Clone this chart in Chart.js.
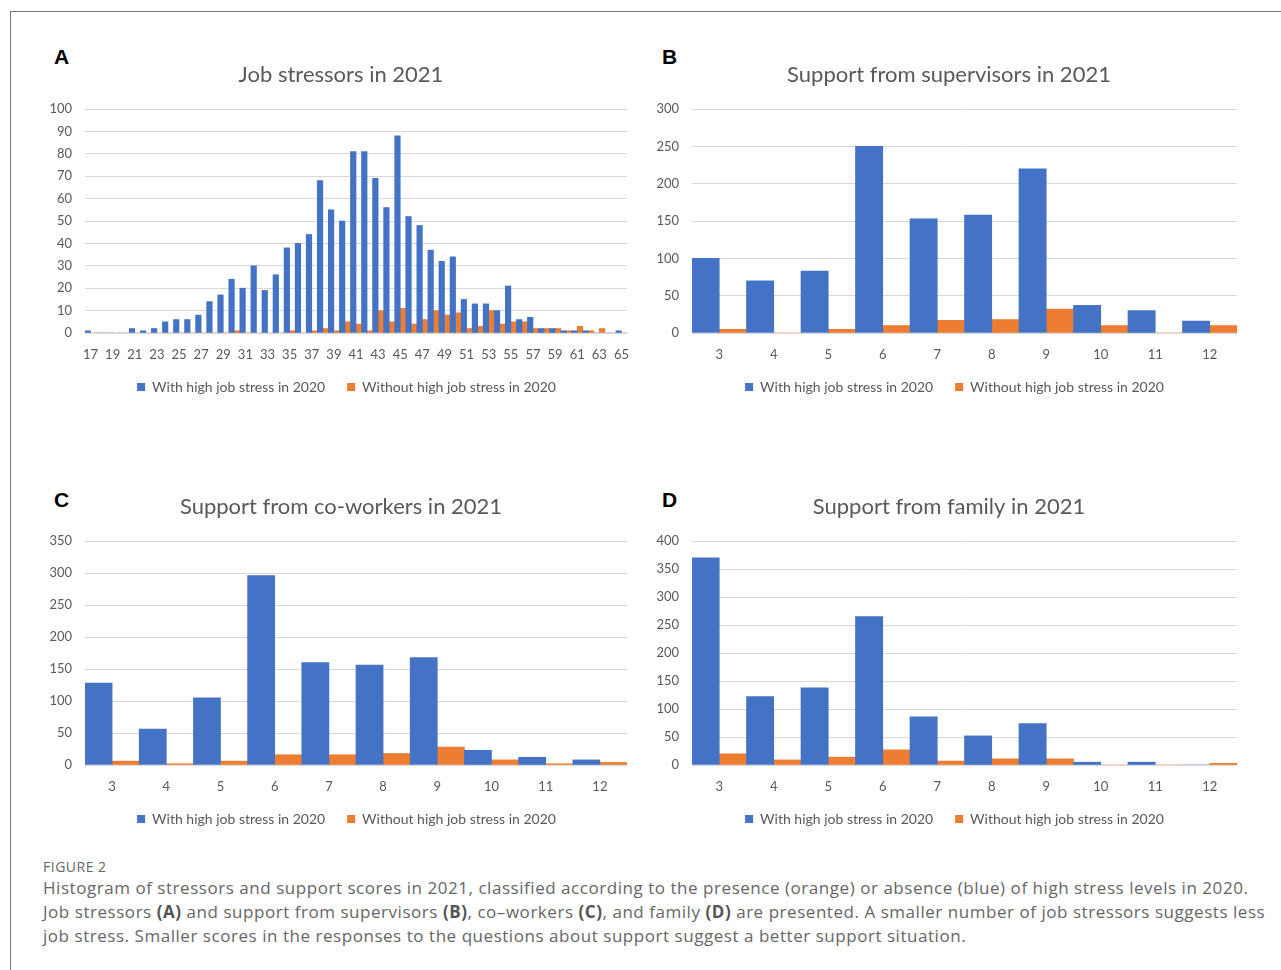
<!DOCTYPE html>
<html>
<head>
<meta charset="utf-8">
<script src="https://cdn.jsdelivr.net/npm/chart.js@4.4.1/dist/chart.umd.min.js"></script>
<style>
  html, body { margin: 0; padding: 0; background: #ffffff; }
  body { width: 1281px; height: 970px; position: relative; overflow: hidden; }
  .frame { position: absolute; left: 10px; top: 11px; width: 1300px; height: 1000px; border: 1px solid #7b7b7b; }
  .panel { position: absolute; }
  .letter { position: absolute; font-family: "Liberation Sans", Arial, sans-serif; font-weight: bold; font-size: 21px; line-height: 21px; color: #000; }
  .fig { position: absolute; left: 43px; top: 857px; font-family: "Open Sans", sans-serif; font-size: 14px; color: #666; letter-spacing: 0.5px; }
  .cap { position: absolute; left: 43px; font-family: "Open Sans", sans-serif; font-size: 17px; letter-spacing: 0.54px; color: #666; white-space: nowrap; }
  .cap b { font-weight: bold; color: #555; }
</style>
</head>
<body>
<div class="frame"></div>

<div class="letter" style="left:54px; top:46px;">A</div>
<div class="letter" style="left:662px; top:46px;">B</div>
<div class="letter" style="left:54px; top:489px;">C</div>
<div class="letter" style="left:662px; top:489px;">D</div>

<div class="panel" style="left:40px; top:55px; width:600px; height:362px;"><canvas id="chartA"></canvas></div>
<div class="panel" style="left:647px; top:55px; width:600px; height:362px;"><canvas id="chartB"></canvas></div>
<div class="panel" style="left:40px; top:487px; width:600px; height:362px;"><canvas id="chartC"></canvas></div>
<div class="panel" style="left:647px; top:487px; width:600px; height:362px;"><canvas id="chartD"></canvas></div>

<div class="fig">FIGURE 2</div>
<div class="cap" style="top:876px;">Histogram of stressors and support scores in 2021, classified according to the presence (orange) or absence (blue) of high stress levels in 2020.</div>
<div class="cap" style="top:900px;">Job stressors <b>(A)</b> and support from supervisors <b>(B)</b>, co–workers <b>(C)</b>, and family <b>(D)</b> are presented. A smaller number of job stressors suggests less</div>
<div class="cap" style="top:924px;">job stress. Smaller scores in the responses to the questions about support suggest a better support situation.</div>

<script>
// Job stressor scores 17–65 (A)
const stressorScores = [17,18,19,20,21,22,23,24,25,26,27,28,29,30,31,32,33,34,35,36,37,38,39,40,41,
  42,43,44,45,46,47,48,49,50,51,52,53,54,55,56,57,58,59,60,61,62,63,64,65];
const stressorWith = [1,0,0,0,2,1,2,5,6,6,8,14,17,24,20,30,19,26,38,40,44,68,55,50,81,
  81,69,56,88,52,48,37,32,34,15,13,13,10,21,6,7,2,2,1,1,1,0,0,1];
const stressorWithout = [0,0,0,0,0,0,0,0,0,0,0,0,0,1,0,0,0,0,1,0,1,2,1,5,4,
  1,10,5,11,4,6,10,8,9,2,3,10,4,5,5,2,2,2,1,3,1,2,0,0];

// Support scores 3–12 (B, C, D)
const supportScores = [3,4,5,6,7,8,9,10,11,12];
const supervisorWith = [100,70,83,250,153,158,220,37,30,16];
const supervisorWithout = [5,0,5,10,17,18,32,10,0,10];
const coworkerWith = [128,56,105,296,160,156,168,23,12,8];
const coworkerWithout = [6,2,6,16,16,18,28,8,2,4];
const familyWith = [370,122,138,265,86,52,74,5,5,0];
const familyWithout = [20,9,14,27,7,11,11,0,0,3];

const seriesNames = ['With high job stress in 2020', 'Without high job stress in 2020'];
const BLUE = '#4472C4';
const ORANGE = '#ED7D31';
const TEXT = '#595959';
const GRID = '#d9d9d9';
const FONT = 'Lato, "Open Sans", sans-serif';

// Nudges the title and legend boxes: both centre a little right of the canvas centre,
// and the legend sits closer to the axis labels.
const boxNudge = {
  id: 'boxNudge',
  afterLayout(chart, args, opts) {
    if (chart.titleBlock) chart.titleBlock.left += opts.title || 0;
    if (chart.legend) {
      chart.legend.left += opts.legend || 0;
      chart.legend.top += opts.legendY || 0;
    }
  }
};

function makeChart(id, title, labels, withVals, withoutVals, yMax, yStep, oddOnly, rightPad, titleShift, legendShift) {
  const ctx = document.getElementById(id);
  return new Chart(ctx, {
    type: 'bar',
    data: {
      labels: labels,
      datasets: [
        { label: seriesNames[0], data: withVals, backgroundColor: BLUE, borderWidth: 0,
          categoryPercentage: 1.0, barPercentage: 1.0 },
        { label: seriesNames[1], data: withoutVals, backgroundColor: ORANGE, borderWidth: 0,
          categoryPercentage: 1.0, barPercentage: 1.0 }
      ]
    },
    plugins: [boxNudge],
    options: {
      responsive: true,
      maintainAspectRatio: false,
      animation: false,
      layout: { padding: { left: 0, right: rightPad, top: 0, bottom: 0 } },
      plugins: {
        tooltip: { enabled: false },
        boxNudge: { title: titleShift, legend: legendShift, legendY: -13 },
        title: {
          display: true,
          text: title,
          color: TEXT,
          font: { family: FONT, size: 22, weight: 'normal' },
          padding: { top: 7, bottom: 20.6 }
        },
        legend: {
          display: true,
          position: 'bottom',
          labels: {
            color: TEXT,
            font: { family: FONT, size: 14 },
            boxWidth: 8,
            boxHeight: 8,
            padding: 22
          }
        }
      },
      scales: {
        x: {
          grid: { display: false },
          border: { display: false },
          ticks: {
            color: TEXT,
            font: { family: FONT, size: 13 },
            autoSkip: false,
            maxRotation: 0,
            padding: 6,
            callback: function (value, index) {
              if (oddOnly && index % 2 !== 0) return '';
              return this.getLabelForValue(value);
            }
          },
          afterFit: function (scale) { scale.height = 38; }
        },
        y: {
          min: 0,
          max: yMax,
          grid: { color: GRID, lineWidth: 1, drawTicks: false },
          border: { display: false },
          ticks: {
            stepSize: yStep,
            color: TEXT,
            font: { family: FONT, size: 13 },
            padding: 13
          },
          afterFit: function (scale) { scale.width = 45; }
        }
      }
    }
  });
}

makeChart('chartA', 'Job stressors in 2021', stressorScores, stressorWith, stressorWithout, 100, 10, true, 13, 15, 26);
makeChart('chartB', 'Support from supervisors in 2021', supportScores, supervisorWith, supervisorWithout, 300, 50, false, 10, 14, 25);
makeChart('chartC', 'Support from co-workers in 2021', supportScores, coworkerWith, coworkerWithout, 350, 50, false, 13, 15, 26);
makeChart('chartD', 'Support from family in 2021', supportScores, familyWith, familyWithout, 400, 50, false, 10, 14, 25);
</script>
</body>
</html>
